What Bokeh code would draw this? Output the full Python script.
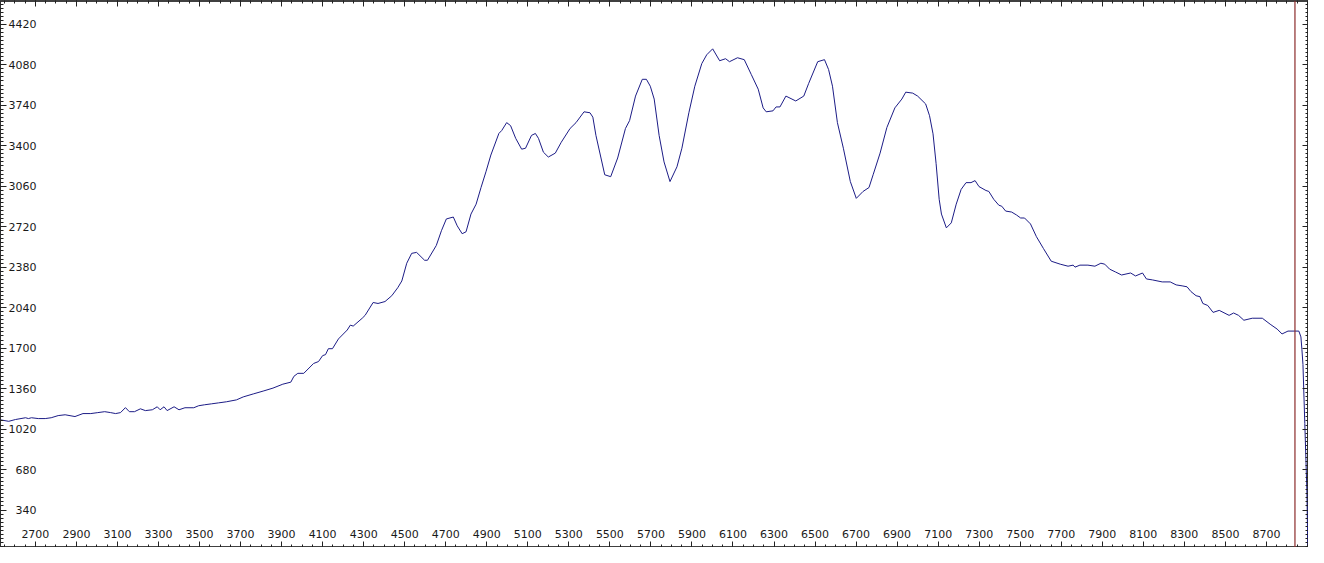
from bokeh.plotting import figure
from bokeh.models import Range1d, LinearAxis, FixedTicker, Span, CustomJSTickFormatter
from bokeh.embed import file_html
from bokeh.resources import INLINE

# spectrum
wavelength = [2521, 2570, 2603, 2652, 2666, 2681, 2714, 2748, 2777, 2811, 2845, 2893,
              2932, 2970, 3004, 3038, 3067, 3091, 3115, 3139, 3158, 3183, 3212, 3236,
              3270, 3294, 3308, 3327, 3342, 3376, 3400, 3429, 3472, 3496, 3525, 3559,
              3593, 3631, 3680, 3713, 3762, 3810, 3858, 3906, 3945, 3960, 3979, 4008,
              4056, 4080, 4100, 4114, 4128, 4148, 4177, 4220, 4235, 4249, 4293, 4307,
              4346, 4370, 4404, 4437, 4466, 4486, 4510, 4534, 4558, 4597, 4611, 4654,
              4679, 4703, 4737, 4756, 4780, 4799, 4823, 4848, 4872, 4896, 4920, 4959,
              4973, 4997, 5016, 5041, 5070, 5089, 5118, 5137, 5152, 5176, 5200, 5234,
              5263, 5306, 5335, 5374, 5403, 5417, 5432, 5475, 5504, 5538, 5576, 5596,
              5625, 5658, 5678, 5697, 5716, 5740, 5764, 5793, 5827, 5851, 5885, 5914,
              5948, 5972, 6001, 6035, 6064, 6083, 6122, 6155, 6189, 6223, 6247, 6262,
              6295, 6310, 6329, 6358, 6406, 6445, 6469, 6513, 6546, 6566, 6585, 6609,
              6638, 6672, 6701, 6734, 6763, 6783, 6817, 6850, 6889, 6923, 6942, 6976,
              7000, 7039, 7058, 7075, 7090, 7105, 7116, 7140, 7164, 7188, 7212, 7236,
              7260, 7280, 7299, 7333, 7347, 7371, 7396, 7410, 7429, 7458, 7482, 7502,
              7521, 7550, 7579, 7613, 7651, 7695, 7733, 7758, 7767, 7791, 7830, 7864,
              7893, 7912, 7936, 7965, 7994, 8038, 8062, 8096, 8115, 8144, 8192, 8231,
              8260, 8289, 8313, 8332, 8357, 8376, 8390, 8414, 8440, 8470, 8518, 8540,
              8564, 8590, 8631, 8680, 8718, 8752, 8776, 8805, 8839, 8858, 8868, 8873,
              8878, 8887, 8897, 8902]
intensity = [1100, 1085, 1100, 1115, 1108, 1115, 1108, 1108, 1115, 1133, 1140, 1125,
             1150, 1150, 1158, 1166, 1158, 1150, 1158, 1200, 1166, 1166, 1190, 1175,
             1182, 1207, 1182, 1207, 1175, 1207, 1182, 1199, 1199, 1216, 1224, 1232,
             1240, 1249, 1265, 1290, 1315, 1339, 1364, 1397, 1414, 1463, 1488, 1488,
             1571, 1587, 1637, 1645, 1695, 1695, 1777, 1852, 1893, 1885, 1951, 1975,
             2083, 2075, 2091, 2140, 2207, 2264, 2413, 2496, 2504, 2438, 2438, 2562,
             2686, 2785, 2801, 2727, 2661, 2677, 2826, 2909, 3049, 3181, 3322, 3503,
             3528, 3594, 3569, 3462, 3371, 3379, 3487, 3503, 3462, 3346, 3305, 3338,
             3429, 3545, 3594, 3685, 3677, 3640, 3487, 3156, 3140, 3297, 3545, 3611,
             3817, 3958, 3958, 3900, 3792, 3487, 3264, 3099, 3223, 3379, 3677, 3900,
             4090, 4164, 4214, 4114, 4131, 4106, 4139, 4123, 3999, 3875, 3718, 3685,
             3693, 3726, 3726, 3817, 3776, 3817, 3924, 4106, 4123, 4040, 3900, 3594,
             3379, 3099, 2958, 3016, 3049, 3156, 3338, 3553, 3718, 3792, 3850, 3842,
             3817, 3751, 3652, 3500, 3250, 2950, 2826, 2710, 2752, 2909, 3033, 3090,
             3090, 3107, 3057, 3024, 3016, 2950, 2900, 2892, 2851, 2843, 2818, 2793,
             2793, 2743, 2636, 2537, 2430, 2405, 2388, 2397, 2380, 2397, 2397, 2388,
             2413, 2405, 2363, 2339, 2314, 2331, 2306, 2331, 2281, 2273, 2256, 2256,
             2231, 2223, 2215, 2175, 2140, 2132, 2075, 2058, 2000, 2017, 1975, 1995,
             1975, 1934, 1951, 1951, 1901, 1860, 1819, 1843, 1843, 1843, 1794, 1686,
             1562, 1067, 513, 0]

marker_x = 8839

x_ticks = [2700, 2900, 3100, 3300, 3500, 3700, 3900, 4100, 4300, 4500, 4700,
           4900, 5100, 5300, 5500, 5700, 5900, 6100, 6300, 6500, 6700, 6900,
           7100, 7300, 7500, 7700, 7900, 8100, 8300, 8500, 8700]
y_ticks = [340, 680, 1020, 1360, 1700, 2040, 2380, 2720, 3060, 3400, 3740, 4080, 4420]

x_minor = list(range(2550, 8901, 50))
y_minor = list(range(34, 4621, 34))

p = figure(width=1308, height=547, output_backend="svg", toolbar_location=None,
           x_range=Range1d(2530, 8905), y_range=Range1d(25, 4620), min_border=0)
p.grid.visible = False
p.outline_line_color = "#333333"
p.background_fill_color = "white"
p.border_fill_color = "white"

p.add_layout(LinearAxis(), "above")
p.add_layout(LinearAxis(), "right")


def style_axis(ax, ticks, minor):
    ax.ticker = FixedTicker(ticks=ticks, minor_ticks=minor)
    ax.major_tick_in = 6
    ax.major_tick_out = 0
    ax.minor_tick_in = 3
    ax.minor_tick_out = 0
    ax.axis_line_color = "#333333"
    ax.major_tick_line_color = "#222222"
    ax.minor_tick_line_color = "#222222"
    ax.major_label_text_font = "DejaVu Sans"
    ax.major_label_text_font_size = "11px"
    ax.major_label_text_color = "#1a1a1a"


for ax in p.xaxis:
    style_axis(ax, x_ticks, x_minor)
for ax in p.yaxis:
    style_axis(ax, y_ticks, y_minor)

# labels sit inside the frame, as in the original
p.below[0].axis_line_width = 3
p.below[0].axis_line_color = "#404040"
p.below[0].major_label_standoff = -18
p.left[0].major_label_standoff = -36

# top and right carry ticks only
for ax in (p.above[0], p.right[0]):
    ax.formatter = CustomJSTickFormatter(code="return ''")
    ax.major_label_standoff = -30
p.above[0].axis_line_width = 3
p.above[0].axis_line_color = "#404040"

p.line(wavelength, intensity, line_color="#1c1c86", line_width=1)
p.add_layout(Span(location=marker_x, dimension="height",
                  line_color="#8b2a2a", line_width=1.2))

open("out.html", "w").write(file_html(p, INLINE))
